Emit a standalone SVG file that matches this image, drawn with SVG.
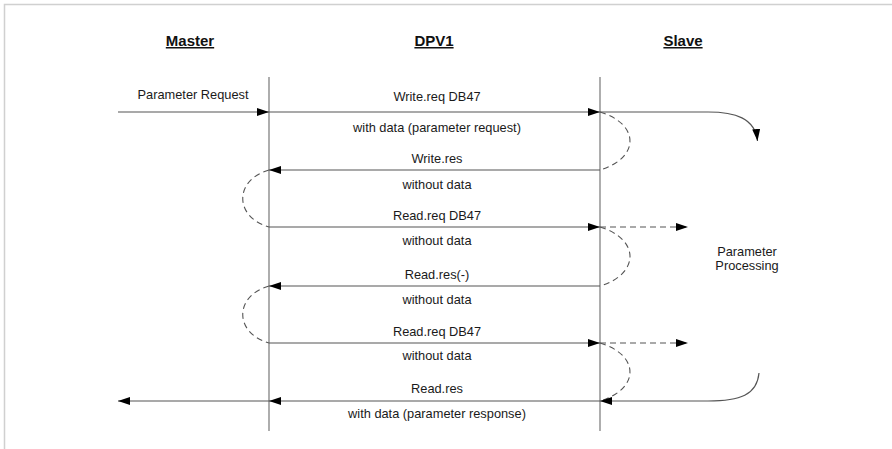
<svg xmlns="http://www.w3.org/2000/svg" width="892" height="449" viewBox="0 0 892 449">
  <style>
    .hdr { font-family: "Liberation Sans", Arial, sans-serif; font-size: 15px; font-weight: bold; text-decoration: underline; fill: #111; text-anchor: middle; }
    .lbl { font-family: "Liberation Sans", Arial, sans-serif; font-size: 12.8px; fill: #1a1a1a; text-anchor: middle; }
    .life { stroke: #777; stroke-width: 1.2; fill: none; }
    .msg { stroke: #555; stroke-width: 1.2; fill: none; }
    .dash { stroke: #555; stroke-width: 1.1; fill: none; stroke-dasharray: 6 4; }
    .frame { stroke: #d0d0d0; stroke-width: 1.5; fill: none; }
  </style>
  <defs>
    <marker id="ah" markerUnits="userSpaceOnUse" markerWidth="14" markerHeight="10" refX="12" refY="4" orient="auto">
      <path d="M0,0 L12,4 L0,8 Z" fill="#000"/>
    </marker>
  </defs>
  <rect x="0" y="0" width="892" height="449" fill="#fff"/>
  <path class="frame" d="M4.5,449 V4.5 H892"/>

  <g id="master">
    <text class="hdr" x="190" y="46">Master</text>
    <line class="life" x1="269" y1="77" x2="269" y2="431"/>
  </g>
  <g id="dpv1">
    <text class="hdr" x="434" y="46">DPV1</text>
    <line class="life" x1="600" y1="77" x2="600" y2="431"/>
  </g>
  <g id="slave">
    <text class="hdr" x="683" y="46">Slave</text>
  </g>
  <g id="processing">
    <text class="lbl" x="747" y="256">Parameter</text>
    <text class="lbl" x="747" y="270">Processing</text>
  </g>

  <g id="connectors">
    <path class="msg" d="M118,112 H269" marker-end="url(#ah)"/>
    <path class="msg" d="M269,112 H600" marker-end="url(#ah)"/>
    <path class="msg" d="M600,112 H708 C735,112 755,118 757.5,141" marker-end="url(#ah)"/>
    <path class="dash" d="M600,112 C640,124 640,158 600,170"/>
    <path class="msg" d="M600,170 H269" marker-end="url(#ah)"/>
    <path class="dash" d="M269,170 C234,180 234,217 269,227"/>
    <path class="msg" d="M269,227 H600" marker-end="url(#ah)"/>
    <path class="dash" d="M600,227 H688" marker-end="url(#ah)"/>
    <path class="dash" d="M600,227 C640,239 640,274 600,286"/>
    <path class="msg" d="M600,286 H269" marker-end="url(#ah)"/>
    <path class="dash" d="M269,286 C234,296 234,333 269,343"/>
    <path class="msg" d="M269,343 H600" marker-end="url(#ah)"/>
    <path class="dash" d="M600,343 H688" marker-end="url(#ah)"/>
    <path class="dash" d="M600,343 C640,355 640,389 600,401"/>
    <path class="msg" d="M759,373 C757,395 740,401 708,401 H600" marker-end="url(#ah)"/>
    <path class="msg" d="M600,401 H269" marker-end="url(#ah)"/>
    <path class="msg" d="M269,401 H118" marker-end="url(#ah)"/>
  </g>

  <g id="labels">
    <text class="lbl" x="193" y="99">Parameter Request</text>
    <text class="lbl" x="437" y="101">Write.req DB47</text>
    <text class="lbl" x="437" y="132">with data (parameter request)</text>
    <text class="lbl" x="437" y="163">Write.res</text>
    <text class="lbl" x="437" y="189">without data</text>
    <text class="lbl" x="437" y="220">Read.req DB47</text>
    <text class="lbl" x="437" y="245">without data</text>
    <text class="lbl" x="437" y="279">Read.res(-)</text>
    <text class="lbl" x="437" y="304">without data</text>
    <text class="lbl" x="437" y="336">Read.req DB47</text>
    <text class="lbl" x="437" y="360">without data</text>
    <text class="lbl" x="437" y="393">Read.res</text>
    <text class="lbl" x="437" y="418">with data (parameter response)</text>
  </g>
</svg>
